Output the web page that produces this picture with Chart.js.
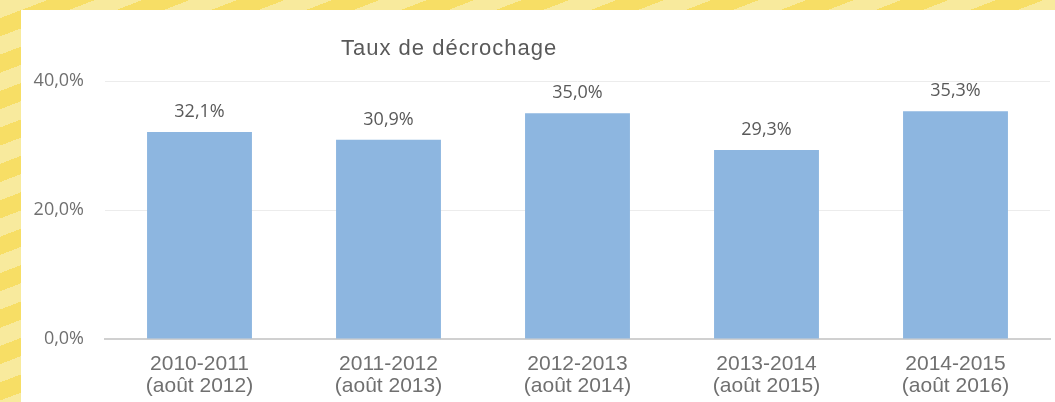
<!DOCTYPE html>
<html lang="fr">
<head>
<meta charset="utf-8">
<title>Taux de décrochage</title>
<script src="https://cdn.jsdelivr.net/npm/chart.js@4/dist/chart.umd.min.js"></script>
<style>
    html, body {
        margin: 0;
        padding: 0;
        width: 1055px;
        height: 402px;
        overflow: hidden;
    }
    body {
        position: relative;
        background: repeating-linear-gradient(159deg, #f8ea9d 0px, #f8ea9d 17px, #f7de65 17px, #f7de65 34px);
    }
    #panel {
        position: absolute;
        left: 21px;
        top: 10px;
        width: 1034px;
        height: 392px;
        background: #ffffff;
    }
    #chart-title {
        position: absolute;
        left: 320px;
        top: 27px;
        font-family: "Liberation Sans", Arial, sans-serif;
        font-size: 22px;
        line-height: 22px;
        letter-spacing: 1px;
        color: #595959;
        white-space: nowrap;
    }
    #chart-decrochage {
        position: absolute;
        left: 0;
        top: 0;
    }
</style>
</head>
<body>
<div id="panel">
    <canvas id="chart-decrochage" width="1034" height="392"></canvas>
    <div id="chart-title">Taux de décrochage</div>
</div>
<script>
(function () {
    "use strict";

    // school year + survey date, one entry per bar
    var categories = [
        ["2010-2011", "(août 2012)"],
        ["2011-2012", "(août 2013)"],
        ["2012-2013", "(août 2014)"],
        ["2013-2014", "(août 2015)"],
        ["2014-2015", "(août 2016)"]
    ];
    var tauxValues = [0.321, 0.309, 0.350, 0.293, 0.353];
    var yTicks = [0, 0.2, 0.4];

    var BAR_COLOR = "#8db6e0";
    var LABEL_COLOR = "#595959";
    var TICK_COLOR = "#707070";

    function pct(v) {
        return (v * 100).toFixed(1).replace(".", ",") + "%";
    }

    // value labels above each bar
    var barLabels = {
        id: "barLabels",
        afterDatasetsDraw: function (chart) {
            var ctx = chart.ctx;
            var meta = chart.getDatasetMeta(0);
            ctx.save();
            ctx.font = "18px 'Open Sans', sans-serif";
            ctx.fillStyle = LABEL_COLOR;
            ctx.textAlign = "center";
            ctx.textBaseline = "alphabetic";
            meta.data.forEach(function (bar, i) {
                ctx.fillText(pct(tauxValues[i]), bar.x, bar.y - 15);
            });
            ctx.restore();
        }
    };

    function initChart() {
        var canvas = document.getElementById("chart-decrochage");
        if (!canvas || typeof Chart === "undefined") {
            return;
        }

        new Chart(canvas, {
            type: "bar",
            data: {
                labels: categories,
                datasets: [{
                    data: tauxValues,
                    backgroundColor: BAR_COLOR,
                    borderWidth: 0,
                    barPercentage: 0.555,
                    categoryPercentage: 1
                }]
            },
            options: {
                responsive: false,
                animation: false,
                layout: {
                    padding: { top: 71, right: 5, bottom: 0, left: 0 }
                },
                plugins: {
                    legend: { display: false },
                    tooltip: { enabled: false }
                },
                scales: {
                    x: {
                        z: 1,
                        grid: { display: false, drawTicks: false },
                        border: { display: true, color: "#d0d0d0", width: 2 },
                        ticks: {
                            padding: 14,
                            color: TICK_COLOR,
                            maxRotation: 0,
                            autoSkip: false,
                            font: { family: "'Liberation Sans', Arial, sans-serif", size: 21, lineHeight: 1.05 }
                        },
                        afterFit: function (scale) {
                            scale.height = 63;
                        }
                    },
                    y: {
                        min: 0,
                        max: 0.4,
                        grid: { color: "#ececec", lineWidth: 1, drawTicks: false },
                        border: { display: false },
                        afterBuildTicks: function (scale) {
                            scale.ticks = yTicks.map(function (v) { return { value: v }; });
                        },
                        ticks: {
                            padding: 21,
                            color: TICK_COLOR,
                            font: { family: "'Open Sans', sans-serif", size: 18 },
                            callback: function (v) { return pct(v); }
                        },
                        afterFit: function (scale) {
                            scale.width = 84;
                        }
                    }
                }
            },
            plugins: [barLabels]
        });
    }

    if (document.readyState === "loading") {
        document.addEventListener("DOMContentLoaded", initChart);
    } else {
        initChart();
    }
})();
</script>
</body>
</html>
